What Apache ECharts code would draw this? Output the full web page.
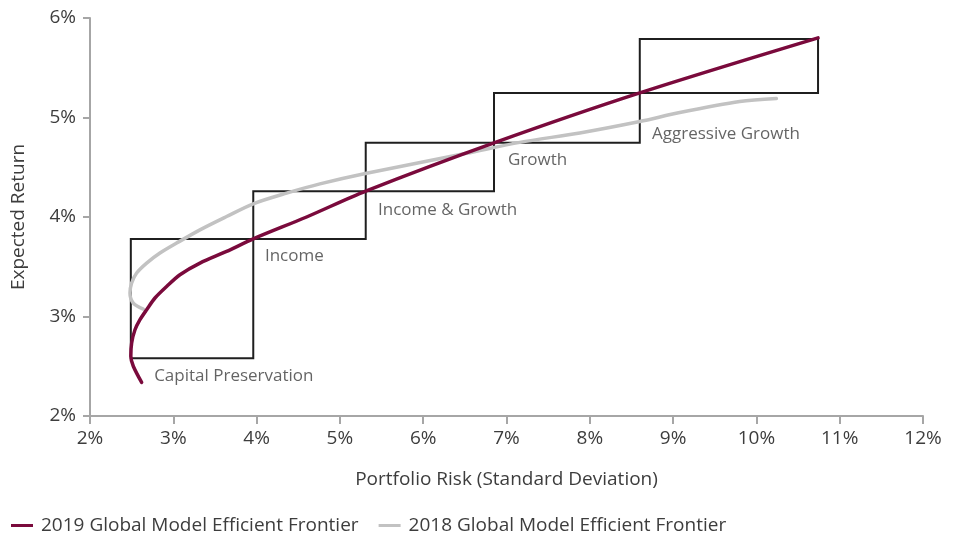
<!DOCTYPE html>
<html>
<head>
<meta charset="utf-8">
<script src="https://cdn.jsdelivr.net/npm/echarts@6/dist/echarts.min.js"></script>
<style>
  html, body { margin: 0; padding: 0; background: #fff; }
  #chart { width: 954px; height: 535px; }
</style>
</head>
<body>
<div id="chart"></div>
<script>
// 2019 frontier: [risk %, return %]
const frontier2019 = [
  [2.62, 2.338], [2.52, 2.50], [2.49, 2.60], [2.50, 2.734], [2.54, 2.867],
  [2.60, 2.968], [2.68, 3.068], [2.78, 3.186], [2.92, 3.302], [3.08, 3.42],
  [3.32, 3.537], [3.64, 3.654], [3.96, 3.78], [4.60, 4.00], [5.31, 4.26],
  [6.85, 4.745], [8.60, 5.247], [10.74, 5.80]
];
// 2018 frontier
const frontier2018 = [
  [2.64, 3.075], [2.52, 3.135], [2.48, 3.236], [2.50, 3.336], [2.56, 3.437],
  [2.68, 3.537], [2.84, 3.638], [3.04, 3.738], [3.32, 3.871], [3.64, 4.005],
  [3.96, 4.133], [4.36, 4.24], [4.76, 4.333], [5.32, 4.44], [6.52, 4.64],
  [7.16, 4.75], [7.88, 4.845], [8.60, 4.96], [9.08, 5.05], [9.80, 5.16],
  [10.24, 5.19]
];
// model portfolio boxes
const boxNames = ["Capital Preservation", "Income", "Income & Growth", "Growth", "Aggressive Growth"];
const boxRisk = [[2.49, 3.96], [3.96, 5.31], [5.31, 6.85], [6.85, 8.60], [8.60, 10.74]];
const boxReturn = [[2.58, 3.78], [3.78, 4.26], [4.26, 4.745], [4.745, 5.247], [5.247, 5.79]];
// where each box name sits (left edge, middle)
const labelAt = [[2.77, 2.396], [4.10, 3.61], [5.457, 4.072], [7.018, 4.574], [8.747, 4.835]];

const xTicks = [2, 12, 1];
const yTicks = [2, 6, 1];

const font = "'Open Sans', sans-serif";
const fontSize = 19;
const textColor = "#3d3d3d";
const axisGray = "#a6a6a6";

let myChart = echarts.init(document.getElementById("chart"));

let areas = boxNames.map((name, i) => [
  { name: name, coord: [boxRisk[i][0], boxReturn[i][0]] },
  { coord: [boxRisk[i][1], boxReturn[i][1]] }
]);

let option = {
  animation: false,
  grid: { left: 90, right: 31, top: 18, bottom: 119 },
  legend: {
    left: 6,
    top: 511,
    itemWidth: 22,
    itemHeight: 3,
    itemGap: 20,
    icon: "rect",
    data: ["2019 Global Model Efficient Frontier", "2018 Global Model Efficient Frontier"],
    textStyle: { fontFamily: font, fontSize: fontSize, color: textColor, padding: [0, 0, 0, 3] }
  },
  xAxis: {
    type: "value",
    min: xTicks[0], max: xTicks[1], interval: xTicks[2],
    name: "Portfolio Risk (Standard Deviation)",
    nameLocation: "middle",
    nameGap: 54,
    nameTextStyle: { fontFamily: font, fontSize: fontSize, color: textColor },
    axisLine: { show: true, lineStyle: { color: axisGray, width: 2 } },
    axisTick: { show: true, length: 8, lineStyle: { color: axisGray, width: 2 } },
    splitLine: { show: false },
    axisLabel: { formatter: "{value}%", fontFamily: font, fontSize: fontSize, color: textColor, margin: 13 }
  },
  yAxis: {
    type: "value",
    min: yTicks[0], max: yTicks[1], interval: yTicks[2],
    name: "Expected Return",
    nameLocation: "middle",
    nameGap: 62,
    nameTextStyle: { fontFamily: font, fontSize: fontSize, color: textColor },
    axisLine: { show: true, lineStyle: { color: axisGray, width: 2 } },
    axisTick: { show: true, length: 7, lineStyle: { color: axisGray, width: 2 } },
    splitLine: { show: false },
    axisLabel: { formatter: "{value}%", fontFamily: font, fontSize: fontSize, color: textColor, margin: 14 }
  },
  series: [
    {
      name: "2018 Global Model Efficient Frontier",
      type: "line",
      data: frontier2018,
      smooth: 0.3,
      showSymbol: false,
      color: "#c2c2c2",
      lineStyle: { width: 3.5, color: "#c2c2c2", cap: "round" },
      z: 3
    },
    {
      name: "boxes",
      type: "line",
      data: [],
      markArea: {
        silent: true,
        itemStyle: { color: "rgba(0,0,0,0)", borderColor: "#1f1f1f", borderWidth: 2 },
        label: { show: false },
        data: areas
      },
      z: 4
    },
    {
      name: "2019 Global Model Efficient Frontier",
      type: "line",
      data: frontier2019,
      smooth: 0.3,
      showSymbol: false,
      color: "#7a0a3c",
      lineStyle: { width: 3.5, color: "#7a0a3c", cap: "round" },
      z: 5
    },
    {
      name: "box labels",
      type: "scatter",
      symbolSize: 0,
      silent: true,
      data: labelAt.map((p, i) => ({ value: p, name: boxNames[i] })),
      label: {
        show: true,
        position: "right",
        distance: 0,
        formatter: "{b}",
        fontFamily: font,
        fontSize: 17,
        color: textColor
      },
      z: 6
    }
  ]
};
myChart.setOption(option);
window.addEventListener("resize", function () {
  myChart.resize();
});
</script>
</body>
</html>
